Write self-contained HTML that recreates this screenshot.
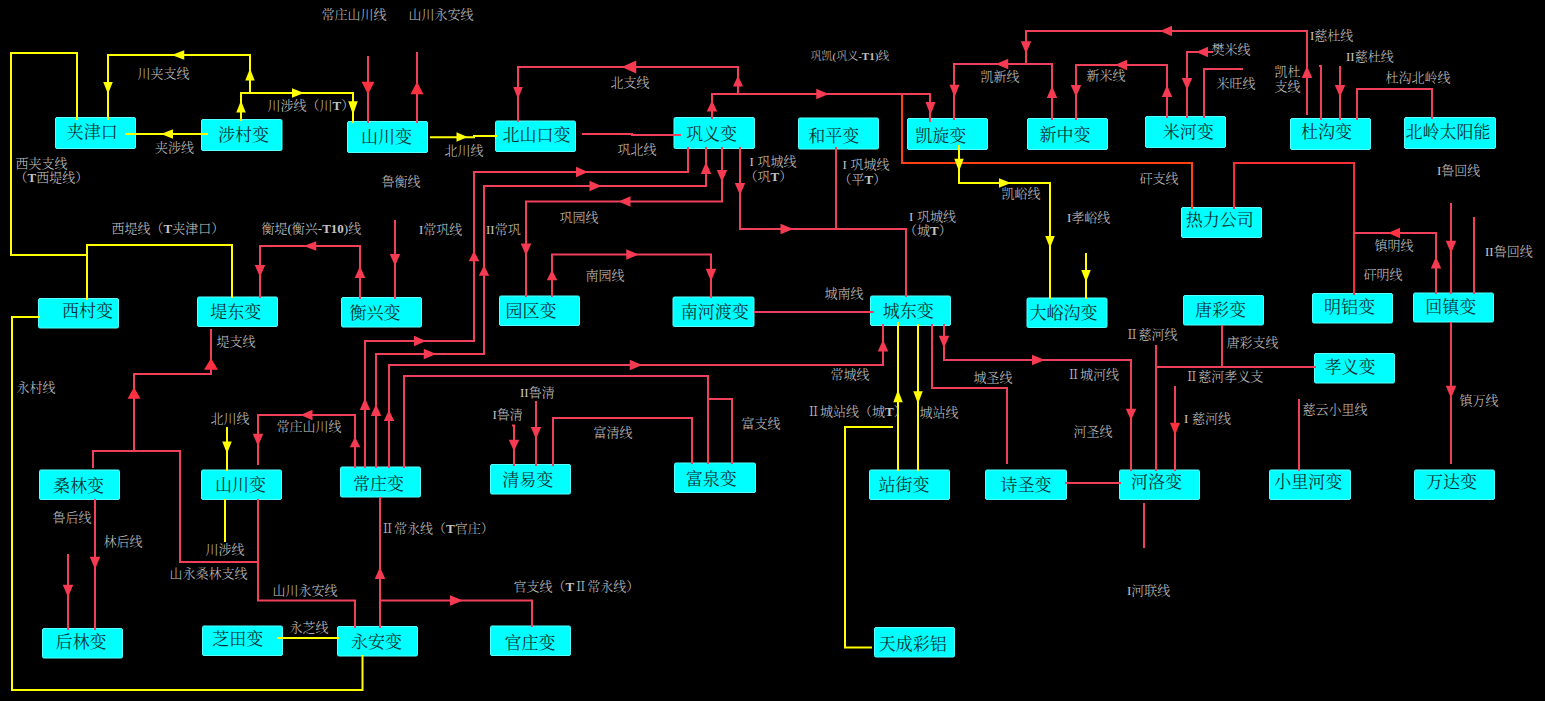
<!DOCTYPE html>
<html lang="zh-CN"><head><meta charset="utf-8"><title>电网接线图</title>
<style>
html,body{margin:0;padding:0;background:#000;}
body{width:1545px;height:701px;overflow:hidden;position:relative;}
svg{position:absolute;left:0;top:0;display:block;}
.bx{fill:#00ffff;stroke:#58ffff;stroke-width:1;}
.bt{font-family:"Liberation Serif","Noto Serif CJK SC",serif;font-size:17px;fill:#073232;text-anchor:middle;font-weight:400;}
.lb{font-family:"Liberation Serif","Noto Serif CJK SC",serif;font-size:13px;fill:#c4c4c4;font-weight:300;}
.b{font-weight:700;}
.ln{fill:none;stroke-width:2;stroke-linejoin:miter;stroke-linecap:butt;}
</style></head><body>
<svg width="1545" height="701" viewBox="0 0 1545 701">
<rect x="0" y="0" width="1545" height="701" fill="#000"/>

<g id="boxes">
<rect class="bx" x="55.5" y="117.5" width="80" height="31" rx="1.5"/>
<rect class="bx" x="201.5" y="119.5" width="80.5" height="31" rx="1.5"/>
<rect class="bx" x="347.5" y="121.5" width="80" height="31" rx="1.5"/>
<rect class="bx" x="495.5" y="121" width="80" height="30.5" rx="1.5"/>
<rect class="bx" x="674" y="117.5" width="80.5" height="31" rx="1.5"/>
<rect class="bx" x="798.5" y="118" width="80" height="31" rx="1.5"/>
<rect class="bx" x="907.5" y="118.5" width="80" height="31" rx="1.5"/>
<rect class="bx" x="1027.5" y="118.5" width="80" height="31" rx="1.5"/>
<rect class="bx" x="1145.5" y="116.5" width="80" height="31" rx="1.5"/>
<rect class="bx" x="1290.5" y="118.5" width="80" height="31" rx="1.5"/>
<rect class="bx" x="1404.5" y="117.5" width="91" height="31" rx="1.5"/>
<rect class="bx" x="1181.5" y="207.5" width="80" height="30" rx="1.5"/>
<rect class="bx" x="38.5" y="298.5" width="80" height="29.5" rx="1.5"/>
<rect class="bx" x="197.5" y="297" width="80" height="29.5" rx="1.5"/>
<rect class="bx" x="341.5" y="297.5" width="80" height="29.5" rx="1.5"/>
<rect class="bx" x="499.5" y="296" width="80" height="29.5" rx="1.5"/>
<rect class="bx" x="673" y="297" width="81" height="29.5" rx="1.5"/>
<rect class="bx" x="870.5" y="296" width="80" height="29.5" rx="1.5"/>
<rect class="bx" x="1027" y="298" width="80" height="29.5" rx="1.5"/>
<rect class="bx" x="1183.5" y="295.5" width="80" height="29.5" rx="1.5"/>
<rect class="bx" x="1312.5" y="293.5" width="80" height="29.5" rx="1.5"/>
<rect class="bx" x="1413.5" y="293" width="80" height="29" rx="1.5"/>
<rect class="bx" x="1314.5" y="353.5" width="80" height="29.5" rx="1.5"/>
<rect class="bx" x="39.5" y="470" width="80" height="29.5" rx="1.5"/>
<rect class="bx" x="201.5" y="470" width="80" height="29.5" rx="1.5"/>
<rect class="bx" x="340.5" y="467" width="80" height="30" rx="1.5"/>
<rect class="bx" x="490.5" y="464.5" width="80" height="29.5" rx="1.5"/>
<rect class="bx" x="674.5" y="463" width="81" height="29.5" rx="1.5"/>
<rect class="bx" x="869.5" y="470" width="80" height="29.5" rx="1.5"/>
<rect class="bx" x="985.5" y="470" width="81" height="29.5" rx="1.5"/>
<rect class="bx" x="1119.5" y="470" width="80" height="29.5" rx="1.5"/>
<rect class="bx" x="1269.5" y="470" width="81" height="29.5" rx="1.5"/>
<rect class="bx" x="1414.5" y="470" width="80" height="29.5" rx="1.5"/>
<rect class="bx" x="42.5" y="628.5" width="80" height="29.5" rx="1.5"/>
<rect class="bx" x="202.5" y="626" width="80" height="29.5" rx="1.5"/>
<rect class="bx" x="337.5" y="626.5" width="80" height="29.5" rx="1.5"/>
<rect class="bx" x="490.5" y="626" width="80" height="29.5" rx="1.5"/>
<rect class="bx" x="874.5" y="627.5" width="80" height="29.5" rx="1.5"/>
</g>
<g id="lines">
<polyline class="ln" stroke="#ffff00" points="77,120 77,53 11,53 11,255 87,255"/>
<polyline class="ln" stroke="#ffff00" points="87,300 87,245 232,245 232,298"/>
<polyline class="ln" stroke="#ffff00" points="108,120 108,55 250,55 250,93"/>
<polyline class="ln" stroke="#ffff00" points="241,121 241,93 353,93 353,123"/>
<polyline class="ln" stroke="#ffff00" points="125,134 208,134"/>
<polyline class="ln" stroke="#ffff00" points="430,137.3 474,137.3 474,136 497,136"/>
<polyline class="ln" stroke="#ffff00" points="959,145 959,183 1050,183 1050,299"/>
<polyline class="ln" stroke="#ffff00" points="1086,253 1086,299"/>
<polyline class="ln" stroke="#ffff00" points="40,317 12,317 12,690 362.5,690 362.5,655"/>
<polyline class="ln" stroke="#ffff00" points="227,427 227,471"/>
<polyline class="ln" stroke="#ffff00" points="225,499 225,542"/>
<polyline class="ln" stroke="#ffff00" points="898,322 898,471"/>
<polyline class="ln" stroke="#ffff00" points="918,324 918,471"/>
<polyline class="ln" stroke="#ffff00" points="893,427 845,427 845,647.5 872,647.5"/>
<polyline class="ln" stroke="#ffff00" points="277,638 339,638"/>
<polyline class="ln" stroke="#ff4210" points="902,94 902,163 1192,163 1192,209"/>
<polyline class="ln" stroke="#f0405a" points="368,56 368,123"/>
<polyline class="ln" stroke="#f0405a" points="417,52 417,123"/>
<polyline class="ln" stroke="#f0405a" points="518,122 518,67 738,67 738,94"/>
<polyline class="ln" stroke="#f0405a" points="712,119 712,94 930,94 930,122"/>
<polyline class="ln" stroke="#f0405a" points="954,120 954,64 1052,64 1052,120"/>
<polyline class="ln" stroke="#f0405a" points="1026,64 1026,31 1307,31 1307,115"/>
<polyline class="ln" stroke="#f0405a" points="582,134 632,134 632,135 681,135"/>
<polyline class="ln" stroke="#f0405a" points="688,147 688,172 474,172 474,341 365,341 365,468"/>
<polyline class="ln" stroke="#f0405a" points="706,147 706,186 484,186 484,354 376,354 376,468"/>
<polyline class="ln" stroke="#f0405a" points="722,147 722,201.5 526,201.5 526,297"/>
<polyline class="ln" stroke="#f0405a" points="740,147 740,229 906,229 906,297"/>
<polyline class="ln" stroke="#f0405a" points="836,147 836,229"/>
<polyline class="ln" stroke="#f0405a" points="1076,120 1076,65 1167,65 1167,118"/>
<polyline class="ln" stroke="#f0405a" points="1187,118 1187,52 1213,52"/>
<polyline class="ln" stroke="#f0405a" points="1204,118 1204,69 1243,69"/>
<polyline class="ln" stroke="#f0405a" points="1319,66 1321,66 1321,120"/>
<polyline class="ln" stroke="#f0405a" points="1340,66 1340,120"/>
<polyline class="ln" stroke="#f0405a" points="1357,120 1357,89 1432,89 1432,119"/>
<polyline class="ln" stroke="#f83036" points="1234,209 1234,163 1354,163 1354,295"/>
<polyline class="ln" stroke="#f0405a" points="1354,233 1436,233 1436,294"/>
<polyline class="ln" stroke="#f0405a" points="1451,203 1451,294"/>
<polyline class="ln" stroke="#f0405a" points="1474,217 1474,294"/>
<polyline class="ln" stroke="#f0405a" points="260,298 260,246 360,246 360,299"/>
<polyline class="ln" stroke="#f0405a" points="395,220 395,299"/>
<polyline class="ln" stroke="#f0405a" points="211,329 211,374 134,374 134,451"/>
<polyline class="ln" stroke="#f0405a" points="93,468 93,451 180,451 180,562 258,562"/>
<polyline class="ln" stroke="#f0405a" points="258,465 258,415 355,415 355,468"/>
<polyline class="ln" stroke="#f0405a" points="389,468 389,365 883,365 883,324"/>
<polyline class="ln" stroke="#f0405a" points="404,468 404,376 708,376 708,464"/>
<polyline class="ln" stroke="#f0405a" points="708,399 732,399 732,464"/>
<polyline class="ln" stroke="#f0405a" points="512,425.5 514,425.5 514,466"/>
<polyline class="ln" stroke="#f0405a" points="536,401 536,466"/>
<polyline class="ln" stroke="#f0405a" points="553,466 553,418 692,418 692,464"/>
<polyline class="ln" stroke="#f0405a" points="552,297 552,254.5 711,254.5 711,298"/>
<polyline class="ln" stroke="#f0405a" points="754,312 874,312"/>
<polyline class="ln" stroke="#f0405a" points="932,324 932,388 1007,388 1007,464"/>
<polyline class="ln" stroke="#f0405a" points="944,324 944,360 1131,360 1131,471"/>
<polyline class="ln" stroke="#f0405a" points="1156,345 1156,471"/>
<polyline class="ln" stroke="#f0405a" points="1156,367 1316,367"/>
<polyline class="ln" stroke="#f0405a" points="1222,325 1222,367"/>
<polyline class="ln" stroke="#f0405a" points="1175,386 1175,471"/>
<polyline class="ln" stroke="#f0405a" points="1299,399 1299,471"/>
<polyline class="ln" stroke="#f0405a" points="1451,322 1451,464"/>
<polyline class="ln" stroke="#f0405a" points="1065,483 1121,483"/>
<polyline class="ln" stroke="#f0405a" points="1144,503 1144,548"/>
<polyline class="ln" stroke="#f0405a" points="95,499 95,630"/>
<polyline class="ln" stroke="#f0405a" points="68,554 68,630"/>
<polyline class="ln" stroke="#f0405a" points="258,499 258,600.5 355,600.5 355,628"/>
<polyline class="ln" stroke="#f0405a" points="380,497 380,628"/>
<polyline class="ln" stroke="#f0405a" points="380,600.5 532,600.5 532,627"/>
</g>
<g id="arrows">
<polygon fill="#ffff00" points="103.25,82 112.75,82 108,94"/>
<polygon fill="#ffff00" points="184.25,50.25 184.25,59.75 171.75,55"/>
<polygon fill="#ffff00" points="245.25,80.5 254.75,80.5 250,68.5"/>
<polygon fill="#ffff00" points="236.25,112.5 245.75,112.5 241,100.5"/>
<polygon fill="#ffff00" points="292,88.25 292,97.75 304,93"/>
<polygon fill="#ffff00" points="348.25,101.25 357.75,101.25 353,114.75"/>
<polygon fill="#ffff00" points="173,129.25 173,138.75 161,134"/>
<polygon fill="#ffff00" points="456.5,132.25 456.5,141.75 467.5,137"/>
<polygon fill="#ffff00" points="954.25,158.75 963.75,158.75 959,171.25"/>
<polygon fill="#ffff00" points="999,178.25 999,187.75 1011,183"/>
<polygon fill="#ffff00" points="1045.25,236 1054.75,236 1050,248"/>
<polygon fill="#ffff00" points="1081.25,270 1090.75,270 1086,282"/>
<polygon fill="#ffff00" points="222.25,441.5 231.75,441.5 227,453.5"/>
<polygon fill="#ffff00" points="893.25,402.25 902.75,402.25 898,389.75"/>
<polygon fill="#ffff00" points="913.25,391.25 922.75,391.25 918,403.75"/>
<polygon fill="#ff3040" points="361.5,81.75 374.5,81.75 368,94.25"/>
<polygon fill="#ff3040" points="410.5,94.25 423.5,94.25 417,81.75"/>
<polygon fill="#f53a52" points="636.25,60.5 636.25,73.5 621.75,67"/>
<polygon fill="#f53a52" points="513.25,87 522.75,87 518,99"/>
<polygon fill="#f53a52" points="733,86.5 743,86.5 738,75.5"/>
<polygon fill="#f53a52" points="706.75,111.5 717.25,111.5 712,100.5"/>
<polygon fill="#f53a52" points="816.25,88.75 816.25,99.25 828.75,94"/>
<polygon fill="#f53a52" points="925.5,102 935.5,102 930.5,115"/>
<polygon fill="#f53a52" points="949.5,84.75 959.5,84.75 954.5,97.25"/>
<polygon fill="#f53a52" points="1008.25,58.75 1008.25,69.25 995.75,64"/>
<polygon fill="#f53a52" points="1046.75,98 1057.25,98 1052,86"/>
<polygon fill="#f53a52" points="1020.75,41.25 1031.25,41.25 1026,53.75"/>
<polygon fill="#f53a52" points="1172,25.75 1172,36.25 1160,31"/>
<polygon fill="#f53a52" points="1301.75,78 1312.25,78 1307,66"/>
<polygon fill="#f53a52" points="576,166.75 576,177.25 588,172"/>
<polygon fill="#f53a52" points="700.75,174 711.25,174 706,162"/>
<polygon fill="#f53a52" points="589.5,180.75 589.5,191.25 601.5,186"/>
<polygon fill="#f53a52" points="716.75,170 727.25,170 722,182"/>
<polygon fill="#f53a52" points="630.5,196.25 630.5,206.75 618.5,201.5"/>
<polygon fill="#f53a52" points="520.75,243.5 531.25,243.5 526,255.5"/>
<polygon fill="#f53a52" points="734.75,183 745.25,183 740,195"/>
<polygon fill="#f53a52" points="780.5,223.75 780.5,234.25 793.5,229"/>
<polygon fill="#f53a52" points="1070.75,85 1081.25,85 1076,97"/>
<polygon fill="#f53a52" points="1127,59.75 1127,70.25 1115,65"/>
<polygon fill="#f53a52" points="1161.75,97 1172.25,97 1167,85"/>
<polygon fill="#f53a52" points="1208,46.75 1208,57.25 1196,52"/>
<polygon fill="#f53a52" points="1181.75,78 1192.25,78 1187,90"/>
<polygon fill="#f53a52" points="1334.75,85 1345.25,85 1340,97"/>
<polygon fill="#ff3040" points="1400,227.75 1400,238.25 1388,233"/>
<polygon fill="#f53a52" points="1430.75,268.5 1441.25,268.5 1436,256.5"/>
<polygon fill="#f53a52" points="1445.75,240.75 1456.25,240.75 1451,253.25"/>
<polygon fill="#f53a52" points="254.75,265 265.25,265 260,277"/>
<polygon fill="#f53a52" points="316.25,241.25 316.25,250.75 303.75,246"/>
<polygon fill="#f53a52" points="354.75,278 365.25,278 360,266"/>
<polygon fill="#f53a52" points="389.75,254 400.25,254 395,266"/>
<polygon fill="#ff3040" points="204,369.75 218,369.75 211,358.25"/>
<polygon fill="#ff3040" points="127.5,398.75 140.5,398.75 134,387.25"/>
<polygon fill="#f53a52" points="252.75,433.75 263.25,433.75 258,446.25"/>
<polygon fill="#f53a52" points="312.5,409.75 312.5,420.25 300.5,415"/>
<polygon fill="#f53a52" points="349.75,447.25 360.25,447.25 355,436.75"/>
<polygon fill="#f53a52" points="359.75,410 370.25,410 365,398"/>
<polygon fill="#f53a52" points="414,335.75 414,346.25 426,341"/>
<polygon fill="#f53a52" points="468.75,261.25 479.25,261.25 474,250.75"/>
<polygon fill="#f53a52" points="370.75,416 381.25,416 376,404"/>
<polygon fill="#f53a52" points="423.75,348.75 423.75,359.25 436.25,354"/>
<polygon fill="#f53a52" points="478.75,275.75 489.25,275.75 484,265.25"/>
<polygon fill="#f53a52" points="383.75,421 394.25,421 389,410"/>
<polygon fill="#f53a52" points="629.75,359.75 629.75,370.25 642.25,365"/>
<polygon fill="#f53a52" points="877.75,351.5 888.25,351.5 883,339.5"/>
<polygon fill="#f53a52" points="508.75,439.75 519.25,439.75 514,451.25"/>
<polygon fill="#f53a52" points="530.75,427 541.25,427 536,439"/>
<polygon fill="#f53a52" points="546.75,280.25 557.25,280.25 552,269.75"/>
<polygon fill="#f53a52" points="626.25,249.25 626.25,259.75 638.75,254.5"/>
<polygon fill="#f53a52" points="705.75,268.75 716.25,268.75 711,281.25"/>
<polygon fill="#f53a52" points="938.75,335.75 949.25,335.75 944,348.25"/>
<polygon fill="#f53a52" points="1032,354.75 1032,365.25 1045,360"/>
<polygon fill="#f53a52" points="1125.75,408.75 1136.25,408.75 1131,420.25"/>
<polygon fill="#ff3040" points="1170,422.75 1180,422.75 1175,435.25"/>
<polygon fill="#f53a52" points="1445.75,385.75 1456.25,385.75 1451,398.25"/>
<polygon fill="#f53a52" points="89.75,556.75 100.25,556.75 95,569.25"/>
<polygon fill="#f53a52" points="62.75,584.75 73.25,584.75 68,597.25"/>
<polygon fill="#f53a52" points="374.75,579 385.25,579 380,567"/>
<polygon fill="#f53a52" points="450,595.25 450,605.75 463,600.5"/>
</g>
<g id="boxtext">
<text class="bt" x="92.2" y="138.3">夹津口</text>
<text class="bt" x="243.55" y="141">涉村变</text>
<text class="bt" x="386.5" y="143">山川变</text>
<text class="bt" x="536.6" y="141.25">北山口变</text>
<text class="bt" x="711.6" y="140">巩义变</text>
<text class="bt" x="833.8" y="142">和平变</text>
<text class="bt" x="940.75" y="142">凯旋变</text>
<text class="bt" x="1065" y="140.5">新中变</text>
<text class="bt" x="1188.3" y="138">米河变</text>
<text class="bt" x="1326.5" y="138.25">杜沟变</text>
<text class="bt" x="1448" y="138.25">北岭太阳能</text>
<text class="bt" x="1219.7" y="226">热力公司</text>
<text class="bt" x="87.5" y="317.25">西村变</text>
<text class="bt" x="235.75" y="317.75">堤东变</text>
<text class="bt" x="375" y="319">衡兴变</text>
<text class="bt" x="531" y="317">园区变</text>
<text class="bt" x="714.7" y="318">南河渡变</text>
<text class="bt" x="908.25" y="317">城东变</text>
<text class="bt" x="1063.5" y="319">大峪沟变</text>
<text class="bt" x="1220.5" y="316.25">唐彩变</text>
<text class="bt" x="1349.5" y="313">明铝变</text>
<text class="bt" x="1450.75" y="313.25">回镇变</text>
<text class="bt" x="1350" y="373.25">孝义变</text>
<text class="bt" x="78.5" y="492.25">桑林变</text>
<text class="bt" x="240.5" y="491">山川变</text>
<text class="bt" x="378.5" y="489.75">常庄变</text>
<text class="bt" x="527.75" y="486">清易变</text>
<text class="bt" x="711.3" y="484.75">富泉变</text>
<text class="bt" x="904" y="491">站街变</text>
<text class="bt" x="1026" y="491">诗圣变</text>
<text class="bt" x="1156.5" y="487.5">河洛变</text>
<text class="bt" x="1308.3" y="487.5">小里河变</text>
<text class="bt" x="1451.5" y="487.5">万达变</text>
<text class="bt" x="81" y="647.5">后林变</text>
<text class="bt" x="237.8" y="645">芝田变</text>
<text class="bt" x="376.5" y="648">永安变</text>
<text class="bt" x="530" y="648.75">官庄变</text>
<text class="bt" x="912.75" y="650.25">天成彩铝</text>
</g>
<g id="labels">
<text class="lb" x="321.5" y="18.68">常庄山川线</text>
<text class="lb" x="408.5" y="18.68">山川永安线</text>
<text class="lb" x="137.5" y="77.68">川夹支线</text>
<text class="lb" x="267.5" y="109.68">川涉线（川<tspan class="b">T</tspan>）</text>
<text class="lb" x="155" y="152.18">夹涉线</text>
<text class="lb" x="444.5" y="154.68">北川线</text>
<text class="lb" x="15.5" y="167.68">西夹支线</text>
<text class="lb" x="14.5" y="181.68">（<tspan class="b">T</tspan>西堤线）</text>
<text class="lb" x="381.5" y="185.68">鲁衡线</text>
<text class="lb" x="111.5" y="232.68">西堤线（<tspan class="b">T</tspan>夹津口）</text>
<text class="lb" x="261.5" y="232.68">衡堤(衡兴-<tspan class="b">T10</tspan>)线</text>
<text class="lb" x="419" y="233.68">I常巩线</text>
<text class="lb" x="486" y="233.68">II常巩</text>
<text class="lb" x="610.5" y="86.68">北支线</text>
<text class="lb" x="810.5" y="59.96" style="font-size:11px">巩凯(巩义-<tspan class="b">T1</tspan>)线</text>
<text class="lb" x="617.5" y="153.68">巩北线</text>
<text class="lb" x="749.5" y="165.68">I<tspan dx="3.7">巩城线</tspan></text>
<text class="lb" x="744.5" y="180.68">（巩<tspan class="b">T</tspan>）</text>
<text class="lb" x="842.5" y="168.68">I<tspan dx="3.7">巩城线</tspan></text>
<text class="lb" x="838.5" y="183.68">（平<tspan class="b">T</tspan>）</text>
<text class="lb" x="909" y="220.68">I<tspan dx="3.7">巩城线</tspan></text>
<text class="lb" x="904" y="234.68">（城<tspan class="b">T</tspan>）</text>
<text class="lb" x="980.5" y="80.93">凯新线</text>
<text class="lb" x="1001.5" y="197.68">凯峪线</text>
<text class="lb" x="559.5" y="221.93">巩园线</text>
<text class="lb" x="1086.5" y="79.68">新米线</text>
<text class="lb" x="1211.5" y="53.68">樊米线</text>
<text class="lb" x="1216.5" y="87.68">米旺线</text>
<text class="lb" x="1310" y="39.68">I慈杜线</text>
<text class="lb" x="1346" y="60.68">II慈杜线</text>
<text class="lb" x="1274.5" y="75.68">凯杜</text>
<text class="lb" x="1274.5" y="90.68">支线</text>
<text class="lb" x="1385.5" y="81.68">杜沟北岭线</text>
<text class="lb" x="1139.5" y="182.68">矸支线</text>
<text class="lb" x="1437" y="174.68">I鲁回线</text>
<text class="lb" x="1067" y="221.68">I孝峪线</text>
<text class="lb" x="1374.5" y="249.68">镇明线</text>
<text class="lb" x="1363.5" y="278.68">矸明线</text>
<text class="lb" x="1485" y="255.68">II鲁回线</text>
<text class="lb" x="1125.5" y="338.68">Ⅱ慈河线</text>
<text class="lb" x="1226.5" y="346.68">唐彩支线</text>
<text class="lb" x="1067" y="378.68">Ⅱ城河线</text>
<text class="lb" x="1185.25" y="380.68">Ⅱ慈河孝义支</text>
<text class="lb" x="1073.5" y="435.68">河圣线</text>
<text class="lb" x="1184" y="422.68">I<tspan dx="3.7">慈河线</tspan></text>
<text class="lb" x="1302.5" y="413.68">慈云小里线</text>
<text class="lb" x="1459.5" y="404.68">镇万线</text>
<text class="lb" x="585.5" y="280.18">南园线</text>
<text class="lb" x="824.5" y="297.68">城南线</text>
<text class="lb" x="830.5" y="378.68">常城线</text>
<text class="lb" x="973.5" y="381.68">城圣线</text>
<text class="lb" x="520" y="396.68">II鲁清</text>
<text class="lb" x="492.5" y="419.18">I鲁清</text>
<text class="lb" x="593.5" y="436.68">富清线</text>
<text class="lb" x="741.5" y="427.68">富支线</text>
<text class="lb" x="807" y="415.68">Ⅱ城站线（城<tspan class="b">T</tspan>）</text>
<text class="lb" x="919.5" y="416.68">城站线</text>
<text class="lb" x="216.5" y="345.68">堤支线</text>
<text class="lb" x="16.5" y="391.68">永村线</text>
<text class="lb" x="210.5" y="422.68">北川线</text>
<text class="lb" x="276.5" y="430.68">常庄山川线</text>
<text class="lb" x="52.5" y="521.68">鲁后线</text>
<text class="lb" x="103.5" y="545.68">林后线</text>
<text class="lb" x="205.5" y="553.68">川涉线</text>
<text class="lb" x="169.5" y="578.43">山永桑林支线</text>
<text class="lb" x="272.5" y="594.68">山川永安线</text>
<text class="lb" x="289.5" y="631.68">永芝线</text>
<text class="lb" x="381" y="532.68">Ⅱ常永线（<tspan class="b">T</tspan>官庄）</text>
<text class="lb" x="513.5" y="590.68">官支线（<tspan class="b">T</tspan>Ⅱ常永线）</text>
<text class="lb" x="1127" y="594.68">I河联线</text>
</g>
</svg></body></html>
